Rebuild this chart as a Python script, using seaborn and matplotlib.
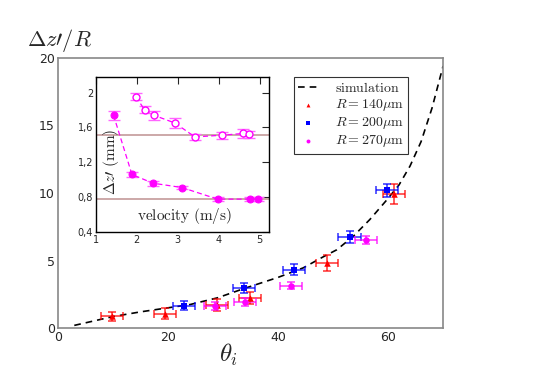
import numpy as np
import pandas as pd
import matplotlib
matplotlib.use('Agg')
import matplotlib.pyplot as plt
import seaborn as sns

# simulation curve
sim_theta = [3, 10, 15, 20, 24, 29, 34, 40, 44.6, 48.2, 50.7, 53.7, 56.7, 59.8, 62, 64, 66, 68, 70]
sim_val = [0.2, 0.85, 1.2, 1.5, 1.74, 2.24, 2.95, 3.75, 4.46, 5.27, 5.8, 6.8, 8.04, 9.5, 10.6, 12.0, 13.8, 16.3, 19.4]

# R = 140 um
r140_theta = [9.9, 19.5, 28.9, 34.9, 48.9, 61.0]
r140_val = [0.87, 1.07, 1.74, 2.24, 4.83, 9.9]
r140_yerr = [0.35, 0.4, 0.45, 0.45, 0.6, 0.75]

# R = 200 um
r200_theta = [23.0, 33.9, 43.0, 53.0, 59.9]
r200_val = [1.67, 2.98, 4.33, 6.73, 10.2]
r200_yerr = [0.3, 0.35, 0.4, 0.45, 0.5]

# R = 270 um
r270_theta = [28.5, 34.0, 42.4, 56.0]
r270_val = [1.61, 1.91, 3.15, 6.5]
r270_yerr = [0.3, 0.3, 0.25, 0.3]

theta_xerr = 2.0

# inset: delta z' vs velocity
vel_low = [1.43, 1.88, 2.39, 3.1, 3.97, 4.77, 4.95]
dz_low = [1.74, 1.06, 0.96, 0.91, 0.777, 0.777, 0.78]
vel_high = [1.98, 2.19, 2.41, 2.93, 3.42, 4.07, 4.6, 4.73]
dz_high = [1.95, 1.80, 1.74, 1.65, 1.49, 1.51, 1.53, 1.52]
dz_err_low = [0.05, 0.03, 0.03, 0.02, 0.02, 0.02, 0.02]
dz_err_high = [0.04, 0.04, 0.05, 0.06, 0.03, 0.04, 0.05, 0.04]
ref_lines = [1.515, 0.777]

sns.set_style("white")
plt.rcParams['font.family'] = ['DejaVu Sans']
plt.rcParams['mathtext.fontset'] = 'cm'

fig = plt.figure(figsize=(5.45, 3.86), dpi=100)
ax = fig.add_axes([0.106, 0.150, 0.707, 0.700])

sns.lineplot(x=sim_theta, y=sim_val, ax=ax, color='black', lw=1.2,
             linestyle=(0, (4, 3)), label=r'$\mathrm{simulation}$')

groups = [
    (r140_theta, r140_val, r140_yerr, '#ff0000', '^', r'$R = 140\mu\mathrm{m}$'),
    (r200_theta, r200_val, r200_yerr, '#0000ff', 's', r'$R = 200\mu\mathrm{m}$'),
    (r270_theta, r270_val, r270_yerr, '#ff00ff', 'o', r'$R = 270\mu\mathrm{m}$'),
]
for th, v, ye, c, m, lab in groups:
    ax.errorbar(th, v, xerr=theta_xerr, yerr=ye, fmt='none', ecolor=c,
                alpha=0.75, elinewidth=1.2, capsize=3, capthick=1.2)
    sns.scatterplot(x=th, y=v, ax=ax, color=c, marker=m, s=22,
                    edgecolor=c, linewidth=0, label=lab, zorder=5)

ax.set_xlim(0, 70)
ax.set_ylim(0, 20)
ax.set_xticks([0, 20, 40, 60])
ax.set_xticks([10, 30, 50], minor=True)
ax.set_yticks([0, 5, 10, 15, 20])
ax.tick_params(axis='both', which='both', direction='in', length=4,
               color='#888888', labelsize=9, pad=2)
for s in ax.spines.values():
    s.set_color('#888888')
    s.set_linewidth(1.2)

leg = ax.legend(loc='upper left', bbox_to_anchor=(0.594, 0.955), fontsize=10,
                frameon=True, fancybox=False, edgecolor='black', handlelength=1.5,
                borderpad=0.3, labelspacing=0.15, handletextpad=1.2,
                markerscale=0.6)
leg.get_frame().set_linewidth(0.8)

fig.text(0.05, 0.895, r'$\Delta z\prime/R$', fontsize=16, va='center')
fig.text(0.42, 0.08, r'$\theta_i$', fontsize=18, ha='center', va='center')

# inset
ins = fig.add_axes([0.176, 0.399, 0.317, 0.402])
for yl in ref_lines:
    ins.axhline(yl, color='#c49a9a', lw=1.2, zorder=1)
ins.errorbar(vel_low, dz_low, yerr=dz_err_low, fmt='none', ecolor='#ff66ff',
             elinewidth=1.0, capsize=4, capthick=1.0, zorder=2)
ins.errorbar(vel_high, dz_high, yerr=dz_err_high, fmt='none', ecolor='#ff66ff',
             elinewidth=1.0, capsize=4, capthick=1.0, zorder=2)
sns.lineplot(x=vel_low, y=dz_low, ax=ins, color='#ff00ff', lw=0.9,
             linestyle=(0, (4, 2.5)), marker='o', markersize=5,
             markeredgecolor='#ff00ff', zorder=3)
sns.lineplot(x=vel_high, y=dz_high, ax=ins, color='#ff00ff', lw=0.9,
             linestyle=(0, (4, 2.5)), marker='o', markersize=5,
             markerfacecolor='white', markeredgecolor='#ff00ff',
             markeredgewidth=1.0, zorder=3)
ins.set_xlim(1, 5.22)
ins.set_ylim(0.4, 2.18)
ins.set_xticks([1, 2, 3, 4, 5])
ins.set_yticks([0.4, 0.8, 1.2, 1.6, 2.0])
ins.set_yticklabels(['0,4', '0,8', '1,2', '1,6', '2'])
ins.tick_params(axis='both', direction='in', length=5, labelsize=7,
                top=True, right=True, pad=2)
for s in ins.spines.values():
    s.set_color('black')
    s.set_linewidth(1.0)
ins.text(0.09, 0.45, r'$\Delta z\prime\ (\mathrm{mm})$', transform=ins.transAxes,
         rotation=90, fontsize=11, ha='center', va='center')
ins.text(0.51, 0.10, r'$\mathrm{velocity\ (m/s)}$', transform=ins.transAxes,
         fontsize=11, ha='center', va='center')

fig.savefig('out.png', dpi=100)
